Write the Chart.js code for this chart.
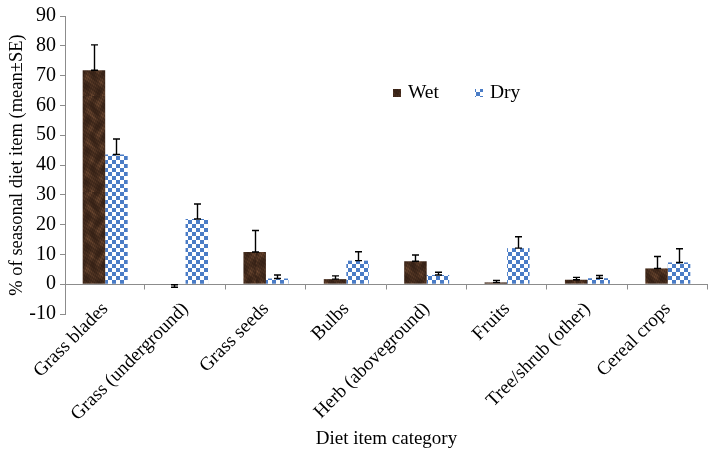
<!DOCTYPE html>
<html>
<head>
<meta charset="utf-8">
<script src="https://cdn.jsdelivr.net/npm/chart.js@4.4.0/dist/chart.umd.min.js"></script>
<style>
  html, body { margin: 0; padding: 0; background: #fff; }
  #wrap { width: 709px; height: 451px; }
</style>
</head>
<body>
<div id="wrap"><canvas id="dietChart" width="709" height="451"></canvas></div>
<script>
const categories = ['Grass blades', 'Grass (underground)', 'Grass seeds', 'Bulbs',
    'Herb (aboveground)', 'Fruits', 'Tree/shrub (other)', 'Cereal crops'];
const wetValues = [71.8, -0.2, 10.8, 1.7, 7.7, 0.6, 1.5, 5.3];
const wetSE = [8.5, 0.8, 7.2, 1.1, 2.1, 0.7, 0.8, 4.0];
const dryValues = [43.5, 21.9, 1.9, 7.9, 3.1, 12.1, 2.0, 7.3];
const drySE = [5.2, 5.0, 1.2, 3.0, 0.9, 3.8, 0.9, 4.6];
const yTicks = { min: -10, max: 90, step: 10 };

const FONT = 'Liberation Serif, Times New Roman, serif';
const AXIS_GREY = '#8c8c8c';

// mottled dark brown texture for the wet bars
function makeWetPattern(ctx) {
    const c = document.createElement('canvas');
    c.width = 64; c.height = 96;
    const g = c.getContext('2d');
    const img = g.createImageData(c.width, c.height);
    for (let y = 0; y < c.height; y++) {
        for (let x = 0; x < c.width; x++) {
            const n = Math.sin(x * 0.55 + 1.8 * Math.sin(y * 0.19)) * 0.3
                + Math.sin(y * 0.41 + 1.5 * Math.sin(x * 0.33)) * 0.3
                + Math.sin(x * 2.3 + y * 1.7) * Math.sin(x * 1.1 - y * 2.9) * 0.4;
            let t = Math.min(1, Math.max(0, (n + 1) / 2));
            t = Math.pow(t, 2);
            const i = (y * c.width + x) * 4;
            img.data[i] = 52 + t * 62;
            img.data[i + 1] = 32 + t * 44;
            img.data[i + 2] = 21 + t * 30;
            img.data[i + 3] = 255;
        }
    }
    g.putImageData(img, 0, 0);
    return ctx.createPattern(c, 'repeat');
}

// blue checkerboard for the dry bars
function makeDryPattern(ctx) {
    const c = document.createElement('canvas');
    c.width = 8; c.height = 8;
    const g = c.getContext('2d');
    g.fillStyle = '#ffffff';
    g.fillRect(0, 0, 8, 8);
    g.fillStyle = '#4a7cc6';
    g.fillRect(0, 0, 4, 4);
    g.fillRect(4, 4, 4, 4);
    return ctx.createPattern(c, 'repeat');
}

const canvas = document.getElementById('dietChart');
const ctx = canvas.getContext('2d');
const wetFill = makeWetPattern(ctx);
const dryFill = makeDryPattern(ctx);

// let the slanted category labels reach up into the plot, as in the original
const noLabelClip = {
    id: 'noLabelClip',
    beforeDraw(chart) {
        chart.scales.x._computeLabelArea = () => undefined;
    }
};

// zero line with category tick marks, like the original's x axis crossing at 0
const zeroAxis = {
    id: 'zeroAxis',
    afterDatasetsDraw(chart) {
        const { ctx, chartArea, scales } = chart;
        const y0 = Math.round(scales.y.getPixelForValue(0)) + 0.5;
        const n = categories.length;
        const w = (chartArea.right - chartArea.left) / n;
        ctx.save();
        ctx.strokeStyle = AXIS_GREY;
        ctx.lineWidth = 1;
        ctx.beginPath();
        ctx.moveTo(chartArea.left, y0);
        ctx.lineTo(chartArea.right, y0);
        for (let i = 1; i <= n; i++) {
            const x = Math.round(chartArea.left + i * w) - 0.5;
            ctx.moveTo(x, y0);
            ctx.lineTo(x, y0 + 5);
        }
        ctx.stroke();
        ctx.restore();
    }
};

const errorBars = {
    id: 'errorBars',
    afterDatasetsDraw(chart) {
        const { ctx, scales } = chart;
        ctx.save();
        ctx.strokeStyle = '#000';
        ctx.lineWidth = 1.4;
        chart.data.datasets.forEach((ds, di) => {
            const meta = chart.getDatasetMeta(di);
            meta.data.forEach((bar, i) => {
                const v = ds.data[i];
                const se = ds.errors[i];
                const end = v < 0 ? v - se : v + se;
                const x = Math.round(bar.x) + 0.5;
                const yA = scales.y.getPixelForValue(v);
                const yB = scales.y.getPixelForValue(end);
                ctx.beginPath();
                ctx.moveTo(x, yA);
                ctx.lineTo(x, yB);
                ctx.moveTo(x - 3.5, yA);
                ctx.lineTo(x + 3.5, yA);
                ctx.moveTo(x - 3.5, yB);
                ctx.lineTo(x + 3.5, yB);
                ctx.stroke();
            });
        });
        ctx.restore();
    }
};

const insideLegend = {
    id: 'insideLegend',
    afterDraw(chart) {
        const { ctx } = chart;
        const items = [
            { label: 'Wet', fill: wetFill, x: 393 },
            { label: 'Dry', fill: dryFill, x: 475 }
        ];
        const yc = 93;
        ctx.save();
        ctx.font = '19.5px ' + FONT;
        ctx.textBaseline = 'middle';
        items.forEach(it => {
            ctx.fillStyle = it.fill;
            ctx.fillRect(it.x, yc - 4, 8, 8);
            ctx.fillStyle = '#000';
            ctx.fillText(it.label, it.x + 15, yc);
        });
        ctx.restore();
    }
};

new Chart(ctx, {
    type: 'bar',
    data: {
        labels: categories,
        datasets: [
            { label: 'Wet', data: wetValues, errors: wetSE, backgroundColor: wetFill, borderWidth: 0 },
            { label: 'Dry', data: dryValues, errors: drySE, backgroundColor: dryFill, borderWidth: 0 }
        ]
    },
    options: {
        responsive: false,
        devicePixelRatio: 1,
        animation: false,
        layout: { padding: { left: 0, right: 1, top: 0, bottom: 0 } },
        datasets: { bar: { categoryPercentage: 0.56, barPercentage: 1 } },
        plugins: {
            legend: { display: false },
            tooltip: { enabled: false }
        },
        scales: {
            x: {
                grid: { display: false, drawTicks: false },
                border: { display: false },
                ticks: {
                    autoSkip: false,
                    maxRotation: 45,
                    minRotation: 45,
                    padding: -16,
                    color: '#000',
                    font: { family: FONT, size: 19 }
                },
                title: {
                    display: true,
                    text: 'Diet item category',
                    color: '#000',
                    font: { family: FONT, size: 19 },
                    padding: { top: 0, bottom: 1 }
                },
                afterFit(scale) { scale.height = 137; }
            },
            y: {
                min: yTicks.min,
                max: yTicks.max,
                grid: { drawOnChartArea: false, color: AXIS_GREY, tickLength: 5 },
                border: { color: AXIS_GREY },
                ticks: {
                    stepSize: yTicks.step,
                    padding: 4,
                    color: '#000',
                    font: { family: FONT, size: 20 }
                },
                title: {
                    display: true,
                    text: '% of seasonal diet item (mean±SE)',
                    color: '#000',
                    font: { family: FONT, size: 18.5 },
                    padding: { top: 6, bottom: 0 }
                },
                afterFit(scale) { scale.width = 65; }
            }
        }
    },
    plugins: [noLabelClip, zeroAxis, errorBars, insideLegend]
});
</script>
</body>
</html>
